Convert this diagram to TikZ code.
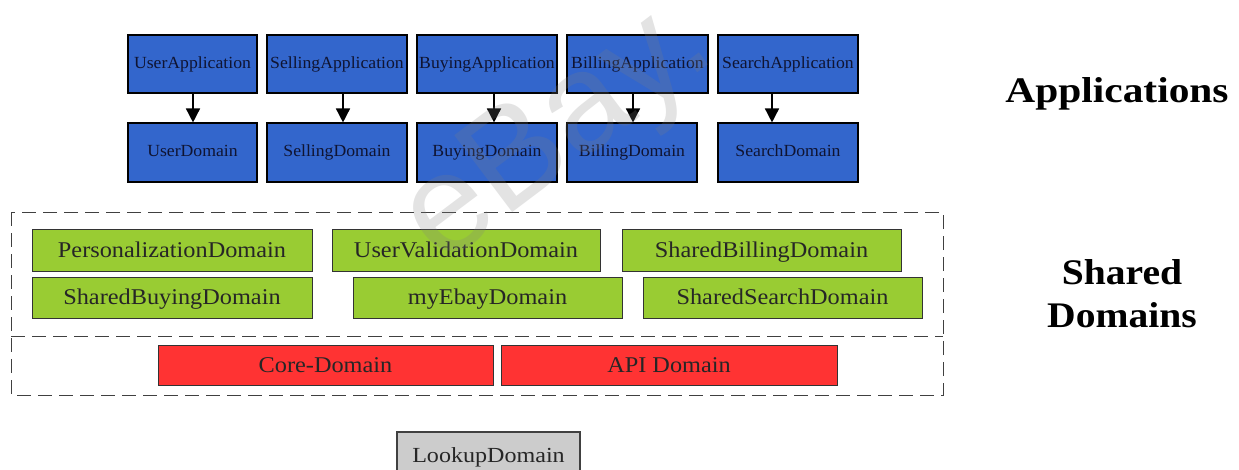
\documentclass[tikz,border=0pt]{standalone}
\usepackage{fontspec}
\setmainfont{Liberation Serif}
\newfontfamily\wmfont{Liberation Sans}
\usetikzlibrary{arrows.meta}
\definecolor{appblue}{RGB}{51,102,204}
\definecolor{shgreen}{RGB}{153,204,51}
\definecolor{corered}{RGB}{255,51,51}
\definecolor{lkgray}{RGB}{204,204,204}
\definecolor{navy}{RGB}{15,20,50}
\tikzset{
  appbox/.style={draw=black, line width=1.1pt, fill=appblue, inner sep=0pt, minimum height=58pt,
    font=\fontsize{17}{17}\selectfont, text=navy, text height=12pt, text depth=3.5pt},
  greenbox/.style={draw=black!80, line width=1pt, fill=shgreen, inner sep=0pt, minimum height=41pt,
    font=\fontsize{22.5}{22.5}\selectfont, text=black!85, text height=16pt, text depth=2pt},
  redbox/.style={draw=black!80, line width=1pt, fill=corered, inner sep=0pt, minimum height=40pt,
    font=\fontsize{22.5}{22.5}\selectfont, text=black!85, text height=16pt, text depth=2pt},
  graybox/.style={draw=black!75, line width=1.2pt, fill=lkgray, inner sep=0pt, minimum height=46pt,
    font=\fontsize{21.5}{21.5}\selectfont, text=black!85, text height=16pt, text depth=2pt},
  layerlabel/.style={font=\fontsize{36}{43}\selectfont\bfseries, align=center, inner sep=0pt},
  darrow/.style={line width=1.5pt, -{Triangle[width=14pt,length=14pt]}},
  dashbox/.style={draw=black!75, line width=1pt, dash pattern=on 14pt off 7pt}
}
\begin{document}
\begin{tikzpicture}[x=1pt,y=-1pt]
\clip (0,0) rectangle (1239,469);
\fill[white] (0,0) rectangle (1239,469);

% application layer
\node[appbox, minimum width=129pt] (ua)  at (192.5,64) {\scalebox{1.04}[1]{UserApplication}};
\node[appbox, minimum width=140pt] (sa)  at (337,64)   {\scalebox{1.04}[1]{SellingApplication}};
\node[appbox, minimum width=140pt] (ba)  at (487,64)   {\scalebox{1.04}[1]{BuyingApplication}};
\node[appbox, minimum width=141pt] (bia) at (637.5,64) {\scalebox{1.04}[1]{BillingApplication}};
\node[appbox, minimum width=140pt] (sea) at (788,64)   {\scalebox{1.04}[1]{SearchApplication}};

\node[appbox, minimum width=129pt, minimum height=59pt] (ud)  at (192.5,152.5) {\scalebox{1.04}[1]{UserDomain}};
\node[appbox, minimum width=140pt, minimum height=59pt] (sd)  at (337,152.5)   {\scalebox{1.04}[1]{SellingDomain}};
\node[appbox, minimum width=140pt, minimum height=59pt] (bd)  at (487,152.5)   {\scalebox{1.04}[1]{BuyingDomain}};
\node[appbox, minimum width=130pt, minimum height=59pt] (bid) at (632,152.5)   {\scalebox{1.04}[1]{BillingDomain}};
\node[appbox, minimum width=140pt, minimum height=59pt] (sed) at (788,152.5)   {\scalebox{1.04}[1]{SearchDomain}};

\draw[darrow] (ua.south -| 193,0)  -- (ud.north -| 193,0);
\draw[darrow] (sa.south -| 343,0)  -- (sd.north -| 343,0);
\draw[darrow] (ba.south -| 494,0)  -- (bd.north -| 494,0);
\draw[darrow] (bia.south -| 633,0) -- (bid.north -| 633,0);
\draw[darrow] (sea.south -| 772,0) -- (sed.north -| 772,0);

% shared domains container
\coordinate (boxtl) at (11,212);
\coordinate (boxbr) at (943,395);
\draw[dashbox] (boxtl) rectangle (boxbr);
\coordinate (divl) at (11,336);
\coordinate (divr) at (943,336);
\draw[dashbox] (divl) -- (divr);

\node[greenbox, minimum width=280pt, minimum height=42pt] (pd)  at (172,250)   {\scalebox{1.08}[1]{PersonalizationDomain}};
\node[greenbox, minimum width=268pt, minimum height=42pt] (uvd) at (466,250)   {\scalebox{1.08}[1]{UserValidationDomain}};
\node[greenbox, minimum width=279pt, minimum height=42pt] (sbd) at (761.5,250) {\scalebox{1.08}[1]{SharedBillingDomain}};
\node[greenbox, minimum width=280pt] (sbyd) at (172,297.5)   {\scalebox{1.08}[1]{SharedBuyingDomain}};
\node[greenbox, minimum width=269pt] (med)  at (487.5,297.5) {\scalebox{1.08}[1]{myEbayDomain}};
\node[greenbox, minimum width=279pt] (ssd)  at (782.5,297.5) {\scalebox{1.08}[1]{SharedSearchDomain}};

\node[redbox, minimum width=335pt] (core) at (325.5,365) {\scalebox{1.08}[1]{Core-Domain}};
\node[redbox, minimum width=336pt] (api)  at (669,365)   {\scalebox{1.08}[1]{API Domain}};

\node[graybox, minimum width=183pt] (lk) at (488.5,455) {\scalebox{1.12}[1]{LookupDomain}};

% layer labels
\node[layerlabel] (applbl) at (1117,94) {\scalebox{1.15}[1]{Applications}};
\node[layerlabel] (shlbl) at (1122,294) {\scalebox{1.1}[1]{Shared}\\\scalebox{1.1}[1]{Domains}};

% watermark
\node[rotate=37, text=gray, opacity=0.22, inner sep=0pt, font=\wmfont\fontsize{140}{140}\selectfont] (wm) at (560,135) {eBay.};
\end{tikzpicture}
\end{document}
